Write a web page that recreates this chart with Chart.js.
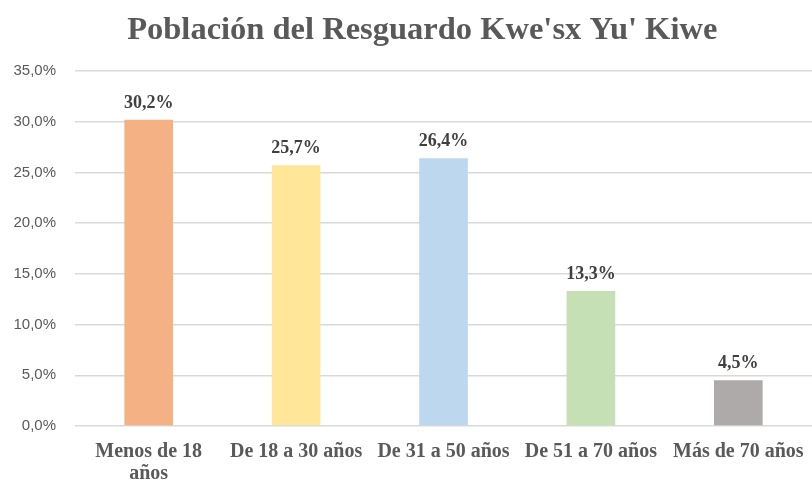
<!DOCTYPE html>
<html>
<head>
<meta charset="utf-8">
<script src="https://cdn.jsdelivr.net/npm/chart.js@4.4.0/dist/chart.umd.min.js"></script>
<style>
    html, body { margin: 0; padding: 0; background: #fff; }
    #wrap { width: 812px; height: 481px; }
</style>
</head>
<body>
<div id="wrap"><canvas id="chart" width="812" height="481"></canvas></div>
<script>
const categories = [
    ['Menos de 18', 'años'],
    'De 18 a 30 años',
    'De 31 a 50 años',
    'De 51 a 70 años',
    'Más de 70 años'
]
const shares = [30.2, 25.7, 26.4, 13.3, 4.5]
const barColors = ['#f4b183', '#ffe699', '#bdd7ee', '#c5e0b4', '#aeaaaa']
const yTicks = [0, 5, 10, 15, 20, 25, 30, 35]

const fmt = v => v.toFixed(1).replace('.', ',') + '%'

// value labels above bars, drawn from the bar elements' positions
const valueLabels = {
    id: 'valueLabels',
    afterDatasetsDraw(chart) {
        const ctx = chart.ctx
        const meta = chart.getDatasetMeta(0)
        ctx.save()
        ctx.font = 'bold 18px "Liberation Serif", serif'
        ctx.fillStyle = '#404040'
        ctx.textAlign = 'center'
        ctx.textBaseline = 'alphabetic'
        meta.data.forEach((bar, i) => {
            ctx.fillText(fmt(shares[i]), bar.x, bar.y - 12)
        })
        ctx.restore()
    }
}

new Chart(document.getElementById('chart'), {
    type: 'bar',
    data: {
        labels: categories,
        datasets: [
            {
                data: shares,
                backgroundColor: barColors,
                borderWidth: 0,
                barPercentage: 0.33,
                categoryPercentage: 1
            }
        ]
    },
    options: {
        animation: false,
        responsive: false,
        maintainAspectRatio: false,
        layout: {
            padding: 0
        },
        plugins: {
            legend: { display: false },
            tooltip: { enabled: false },
            title: {
                display: true,
                // leading spaces nudge the centred title to the right, as in the original
                text: "    Población del Resguardo Kwe'sx Yu' Kiwe",
                color: '#595959',
                font: { family: '"Liberation Serif", serif', size: 32.5, weight: 'bold' },
                padding: { top: 11, bottom: 21 }
            }
        },
        scales: {
            x: {
                afterFit(scale) {
                    scale.height = 55
                    scale.paddingLeft = 0
                    scale.paddingRight = 0
                },
                grid: { display: false },
                border: { display: false },
                ticks: {
                    color: '#595959',
                    padding: 7,
                    maxRotation: 0,
                    autoSkip: false,
                    font: { family: '"Liberation Serif", serif', size: 20, weight: 'bold', lineHeight: 1.1 }
                }
            },
            y: {
                min: 0,
                max: 35,
                afterFit(scale) { scale.width = 75 },
                afterBuildTicks(scale) { scale.ticks = yTicks.map(v => ({ value: v })) },
                grid: { color: '#d9d9d9', lineWidth: 1.5, drawTicks: false },
                border: { display: false },
                ticks: {
                    color: '#595959',
                    padding: 19,
                    font: { family: '"Liberation Sans", sans-serif', size: 15 },
                    callback: v => fmt(v)
                }
            }
        }
    },
    plugins: [valueLabels]
})
</script>
</body>
</html>
